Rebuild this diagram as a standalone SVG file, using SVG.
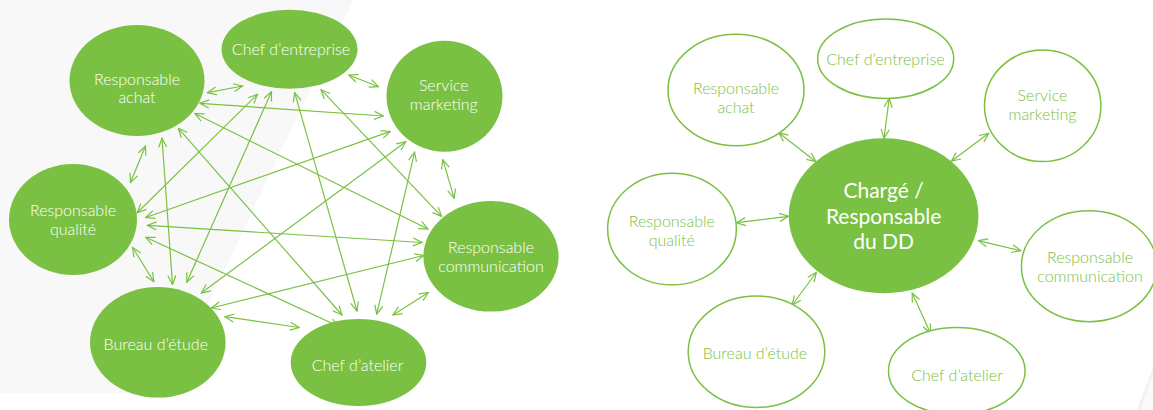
<svg xmlns="http://www.w3.org/2000/svg" width="1153" height="410" viewBox="0 0 1153 410">
<defs>
<marker id="ah" viewBox="-1 -5 11 10" refX="9" refY="0" markerWidth="11" markerHeight="10" markerUnits="userSpaceOnUse" orient="auto-start-reverse">
<polyline points="0,-4 9,0 0,4" fill="none" stroke="#7AC143" stroke-width="1.2"/>
</marker>
<style>
.c line{stroke:#7AC143;stroke-width:1.2;marker-start:url(#ah);marker-end:url(#ah)}
.f ellipse{fill:#7AC143}
.o ellipse{fill:#fff;stroke:#7AC143;stroke-width:1.5}
.f text{fill:#fff;font-family:Lato,"Open Sans",sans-serif;font-weight:300;font-size:16px;text-anchor:middle}
.o text{fill:#7AC143;font-family:Lato,"Open Sans",sans-serif;font-weight:300;font-size:16px;text-anchor:middle}
.big text{fill:#fff;font-family:Lato,"Open Sans",sans-serif;font-weight:400;font-size:21px;text-anchor:middle}
</style>
</defs>
<rect width="1153" height="410" fill="#fff"/>
<polygon points="0,0 353,0 166,393 0,393" fill="#f8f8f8"/>
<polygon points="1153,368 1153,410 1137,410" fill="#f1f1f1"/>
<polygon points="1153,374 1153,410 1140,410" fill="#fafafa"/>

<g id="connectors-left" class="c">
<line x1="207.4" y1="92.7" x2="242.6" y2="86"/>
<line x1="348.9" y1="75" x2="378.5" y2="86.7"/>
<line x1="200" y1="103.3" x2="383.3" y2="116"/>
<line x1="145.5" y1="146" x2="130.4" y2="182.7"/>
<line x1="162" y1="138.3" x2="172.5" y2="284.5"/>
<line x1="178.4" y1="128.3" x2="342" y2="315"/>
<line x1="194.8" y1="113.5" x2="428" y2="229"/>
<line x1="257.5" y1="94.3" x2="137.2" y2="212.8"/>
<line x1="271.5" y1="91.7" x2="186.8" y2="282.2"/>
<line x1="294.7" y1="92.7" x2="357" y2="311"/>
<line x1="321" y1="89.7" x2="441.6" y2="216.4"/>
<line x1="390.4" y1="131.4" x2="145.7" y2="217.5"/>
<line x1="405.8" y1="141.7" x2="201.3" y2="293"/>
<line x1="414.6" y1="152.2" x2="376.7" y2="314.2"/>
<line x1="442.8" y1="159.6" x2="454.2" y2="198.3"/>
<line x1="147.4" y1="225.3" x2="422" y2="242.5"/>
<line x1="145.7" y1="237.3" x2="339" y2="326.5"/>
<line x1="132.6" y1="247.5" x2="153.9" y2="281.7"/>
<line x1="211.4" y1="308" x2="423.7" y2="255.5"/>
<line x1="224.9" y1="316.7" x2="299.2" y2="327.5"/>
<line x1="428.4" y1="292.5" x2="393" y2="315"/>
</g>

<g id="connectors-right" class="c">
<line x1="778.8" y1="132.7" x2="815.9" y2="161.7"/>
<line x1="889.2" y1="98.3" x2="884" y2="138.3"/>
<line x1="988.7" y1="133.3" x2="951.3" y2="161.2"/>
<line x1="736.5" y1="222.7" x2="788.5" y2="216.3"/>
<line x1="978.5" y1="240.7" x2="1020.8" y2="250.7"/>
<line x1="792.2" y1="305" x2="816.3" y2="272.5"/>
<line x1="912.2" y1="293" x2="930.5" y2="333.3"/>
</g>

<g id="l-achat" class="f"><ellipse cx="137" cy="80.5" rx="67.5" ry="55.5"/><text x="137" y="85">Responsable</text><text x="137" y="103">achat</text></g>
<g id="l-entreprise" class="f"><ellipse cx="289.5" cy="49.3" rx="68" ry="39.5"/><text x="291" y="55">Chef d’entreprise</text></g>
<g id="l-marketing" class="f"><ellipse cx="444.5" cy="96.3" rx="58" ry="55.5"/><text x="443.8" y="91">Service</text><text x="443.8" y="110">marketing</text></g>
<g id="l-qualite" class="f"><ellipse cx="73" cy="219.5" rx="64" ry="55.5"/><text x="73" y="216">Responsable</text><text x="73" y="235">qualité</text></g>
<g id="l-communication" class="f"><ellipse cx="491" cy="256.3" rx="67.6" ry="55.3"/><text x="491" y="253.3">Responsable</text><text x="491" y="271.7">communication</text></g>
<g id="l-bureau" class="f"><ellipse cx="157.8" cy="342.3" rx="67.8" ry="55.3"/><text x="155.8" y="350">Bureau d’étude</text></g>
<g id="l-atelier" class="f"><ellipse cx="358.5" cy="362.5" rx="67.8" ry="43.5"/><text x="357.5" y="370.7">Chef d’atelier</text></g>

<g id="r-achat" class="o"><ellipse cx="736" cy="90" rx="68" ry="55.7"/><text x="736" y="94">Responsable</text><text x="736" y="112.7">achat</text></g>
<g id="r-entreprise" class="o"><ellipse cx="885.7" cy="58.7" rx="68" ry="39.7"/><text x="885.4" y="65.3">Chef d’entreprise</text></g>
<g id="r-marketing" class="o"><ellipse cx="1042.7" cy="105.8" rx="58.2" ry="55.8"/><text x="1042.5" y="101">Service</text><text x="1042.5" y="120">marketing</text></g>
<g id="r-qualite" class="o"><ellipse cx="672" cy="229" rx="64.4" ry="55.8"/><text x="671.8" y="226.7">Responsable</text><text x="671.8" y="245.7">qualité</text></g>
<g id="r-communication" class="o"><ellipse cx="1089" cy="266.2" rx="67.6" ry="55.5"/><text x="1090" y="262.7">Responsable</text><text x="1090" y="281.7">communication</text></g>
<g id="r-bureau" class="o"><ellipse cx="756.5" cy="351.7" rx="68.3" ry="55.7"/><text x="754.9" y="359.3">Bureau d’étude</text></g>
<g id="r-atelier" class="o"><ellipse cx="956.8" cy="371" rx="68.3" ry="43.5"/><text x="957" y="381">Chef d’atelier</text></g>
<g id="r-center" class="f big"><ellipse cx="883.6" cy="215.8" rx="94.9" ry="77.5"/><text x="883.6" y="198.3">Chargé /</text><text x="883.6" y="224">Responsable</text><text x="883.6" y="249.3">du DD</text></g>
</svg>
